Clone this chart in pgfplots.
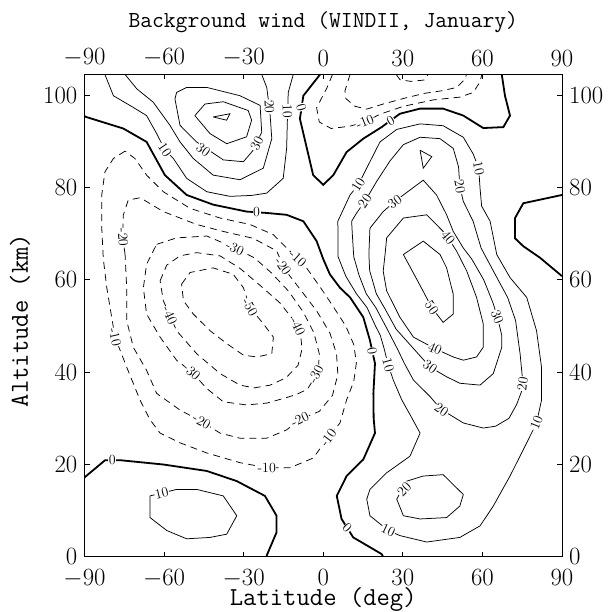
\documentclass[border=0pt]{standalone}
\usepackage{pgfplots}
\pgfplotsset{compat=1.18}

\begin{document}
\begin{tikzpicture}[
  lab/.style={font=\fontsize{14}{14}\selectfont, fill=white, inner sep=0.5bp},
]
\pgfplotsset{
  windframe/.style={
    scale only axis, width=477.5bp, height=482.3bp,
    xmin=-90, xmax=90, ymin=0, ymax=104.5,
    xtick={-90,-60,-30,0,30,60,90}, ytick={0,20,40,60,80,100},
    tick align=inside, major tick length=5bp,
    axis line style={line width=0.8bp},
    every tick/.style={black, line width=0.8bp},
    tick label style={font=\fontsize{25}{25}\selectfont},
  },
  pos/.style={black, line width=0.75bp},
  neg/.style={black, line width=0.75bp, dash pattern=on 7bp off 5bp},
  zer/.style={black, line width=1.8bp},
}

% bottom / left tick labels, titles and all contours
\begin{axis}[windframe,
  xticklabel style={anchor=north, inner sep=0pt, yshift=-13bp},
  yticklabel style={anchor=east, inner sep=0pt, xshift=-7bp},
  title={Background wind (WINDII, January)},
  title style={font=\ttfamily\fontsize{23}{23}\selectfont, at={(axis description cs:0.5,1.086)}, anchor=base},
  xlabel={Latitude (deg)},
  xlabel style={font=\ttfamily\fontsize{26}{26}\selectfont, at={(axis description cs:0.5,-0.1016)}, anchor=base},
  ylabel={Altitude (km)},
  ylabel style={font=\ttfamily\fontsize{26}{26}\selectfont, at={(axis description cs:-0.1351,0.49)}, anchor=center},
]

% ---- zero lines (thick)
\addplot[zer] coordinates {(-90,95.5) (-89.4,95.3) (-75.4,92.8) (-66.6,89.9) (-59.7,82.7) (-51.5,78.4) (-41.5,76.3) (-28.9,74.8) (-21.3,74.5) (-13.8,74.1) (-7.5,72.7) (-2.5,68.4) (0,64.5) (2.5,61.2) (6.3,58.3) (10.1,56.2) (15.1,51.9) (17.6,46.9) (19.5,41.9) (18.9,35.4) (19,30) (19.5,26.8) (15.1,21.1) (8.8,17.5) (5.1,13.2) (6.9,8.2) (11.3,4.2) (22,0.6) (22.6,0)};
\addplot[zer] coordinates {(-1.2,104.5) (-7.5,99.9) (-8.8,94.9) (-3.8,82.7) (0,80.6) (3.8,82.7) (8.8,87.7) (15.1,90.6) (22,93.1) (28.9,96) (36.5,97.1) (45.2,97.1) (52.8,95.6) (60.3,92.9) (67.9,93.1) (70.4,95.6) (68.5,99.9) (67.3,104.5)};
\addplot[zer] coordinates {(90,78.4) (75.4,76.6) (72.3,73.4) (72.3,69) (75.4,67.3) (81.7,64.8) (89.2,61.2) (90,60.8)};
\addplot[zer] coordinates {(-90,17.2) (-82.3,20.9) (-76,20.9) (-60.3,20) (-43.9,18.6) (-32.6,16.4) (-22,13.2) (-17.6,8.9) (-17.6,5.3) (-21.3,0.3) (-21.4,0)};

% ---- southern mesospheric westerlies
\addplot[pos] coordinates {(-82.3,104.5) (-79.1,99.9) (-72,97.5) (-66.6,95.6) (-62.8,91.7) (-59.7,88.2) (-56.5,86.3) (-51.5,82) (-43.9,79.1) (-35.2,78.1) (-27,78.3) (-21.3,78.8) (-15.1,82) (-13.8,88.5) (-13.5,95) (-13.2,100.6) (-11.3,104.5)};
\addplot[pos] coordinates {(-74.7,104.5) (-70.3,101.4) (-64.1,98.5) (-57.8,93.5) (-54,89.9) (-49,86.3) (-41.5,82.7) (-31.4,81.7) (-22.6,84.2) (-19.4,90.6) (-20.1,96.3) (-21.3,101.7) (-23.2,104.5)};
\addplot[pos] coordinates {(-55.3,100.6) (-51.5,101.7) (-43.9,101.7) (-31.4,99.9) (-23.8,97.8) (-23.2,92) (-26.4,88.1) (-30.1,85.6) (-37.7,86) (-47.8,89.9) (-54,93.5) (-55.9,99.2) (-55.3,100.6)};
\addplot[pos] coordinates {(-48.4,95.6) (-44.6,98.1) (-37.7,98.6) (-28.3,96.7) (-27,94.6) (-28.9,91) (-36.4,89.5) (-42.7,91.7) (-48.4,95.6)};
\addplot[pos] coordinates {(-41.5,95.3) (-35.2,96) (-36.4,94.6) (-41.5,95.3)};

% ---- southern stratospheric easterlies
\addplot[neg] coordinates {(-74.7,87.9) (-79.1,86.3) (-82.3,83.4) (-83.5,78.4) (-83.5,71.2) (-82.9,64.5) (-81.6,58.3) (-78.5,47.6) (-74.1,41.1) (-69.1,34) (-65.3,29.7) (-61.5,26.8) (-54,24.7) (-43.9,22.5) (-31.4,20.4) (-21.3,19.3) (-12.5,19.3) (-3.8,21.4) (1.3,25.4) (6.3,29) (8.8,34) (11.5,38) (12.5,42) (11.5,46) (8.5,50) (4,54) (-1,58.3) (-6.3,62.6) (-10,64.8) (-13.8,66.9) (-18.8,69.8) (-27.6,72) (-38.9,73.4) (-50.2,75.5) (-60.3,79.1) (-66.6,82.7) (-71,86.3) (-74.7,87.9)};
\addplot[neg] coordinates {(-74.7,65.5) (-75.6,69.2) (-75.4,74) (-73.5,77.3) (-69,77.8) (-60.3,74.8) (-47.7,72) (-37.7,70.5) (-26.4,69) (-17.6,66.3) (-14.4,62.2) (-8.5,57.8) (-2.5,53.3) (2.5,48.5) (5,44) (5.5,39.5) (3.5,35) (-1.5,31.5) (-8.8,29.8) (-13.8,27.5) (-21.3,25.7) (-31.4,25.7) (-38.9,26.8) (-45.8,29.3) (-54,31.8) (-62.8,35.4) (-66.6,40.4) (-71.6,45.4) (-74.1,51.2) (-74.1,58.3) (-74.7,65.5)};
\addplot[neg] coordinates {(-62.8,67.7) (-55.3,69.1) (-43.9,69.5) (-37.7,68) (-33.3,66.9) (-26,64.8) (-19.5,61.5) (-13,57.5) (-7.5,53) (-3.5,48.5) (-1.5,44) (-1.8,41) (-3.8,38.3) (-6,36.3) (-10,35.2) (-13.8,34.5) (-21.3,33.3) (-28.9,32.9) (-37.7,33.6) (-44,36.5) (-49.6,40.1) (-55.3,42.6) (-61.5,47.6) (-66.6,52.6) (-67.8,58.3) (-66.6,63.4) (-62.8,67.7)};
\addplot[neg] coordinates {(-61.5,59.8) (-59,63.2) (-54,65.2) (-47.7,65.9) (-38.9,65.2) (-31.4,62.5) (-23.8,58.8) (-16.3,55) (-11.5,51.5) (-8.6,48.5) (-8,45) (-9.5,41.5) (-14,38.8) (-20,37.2) (-26,36.6) (-31.4,37.2) (-38.9,39.7) (-47.7,44) (-55.3,49) (-57.8,52.3) (-60.3,55.5) (-61.5,59.8)};
\addplot[neg] coordinates {(-53.4,59.1) (-50.2,61.6) (-41.5,62.6) (-33.9,61.2) (-30.1,58.3) (-27.6,54) (-22.6,50.5) (-18.8,47.6) (-19.4,44) (-25.1,43.3) (-30.1,43.7) (-36.4,46.2) (-42.7,49) (-49,52.6) (-52.7,55.5) (-53.4,59.1)};

% ---- northern mesopause easterlies
\addplot[neg] coordinates {(3.5,104.5) (1.3,101.5) (-2.5,97.3) (-1.5,94.2) (3,92.8) (10,93.3) (15.7,94.2) (21.4,95.9) (30.2,97.6) (41.5,99) (51.5,99.6) (56.5,100.6) (59,102.8) (59.8,104.5)};
\addplot[neg] coordinates {(10.1,104.5) (8.2,101) (8.5,99.3) (12,97.6) (16.4,97) (22.6,98.1) (30.2,99.3) (38,100.4) (45,101) (50.3,101.7) (53.4,103.5) (54,104.5)};
\addplot[neg] coordinates {(27.5,104.5) (28.9,103.4) (33,103) (38,103.3) (39.5,104.5)};

% ---- northern winter westerlies
\addplot[pos] coordinates {(10.1,78.4) (13.2,80.6) (17.6,85.6) (21.4,89.9) (27.7,92.6) (36.5,93.8) (45.2,93.4) (52.8,90.9) (56.5,87.3) (58.6,84.2) (59.1,79.9) (59.7,76) (62.9,72.7) (65.4,65.5) (70.4,60.5) (76.7,56.2) (80.4,49) (82.3,41) (82.3,34) (80.4,29) (75.4,23.2) (70.4,17.5) (64.1,11) (59.1,6.7) (51.5,4.2) (39,3.2) (28.9,4.6) (24.5,5.7) (17.6,8.9) (16.4,12.5) (17.6,14.6) (23.9,18.2) (32.7,21.8) (36.5,26.8) (33,30.5) (29.6,34) (26.4,38.3) (24.5,41.5) (23,45) (21.5,48) (19.7,50) (16.5,54) (12.5,57) (8.5,60.8) (5.6,65) (5.5,72.7) (10.1,78.4)};
\addplot[pos] coordinates {(10.7,72.7) (12.6,74.5) (15.7,77) (20.1,81.3) (25.2,85.8) (30.2,89.3) (36.5,90.9) (44,90.6) (49,88.5) (51,84.5) (51.5,80.2) (52.8,77) (56.5,72.7) (59.5,66.9) (64.8,61.2) (69.5,56.2) (72.5,51.2) (74.2,44) (75.4,36.8) (72.9,33) (70,30) (65,28.3) (60.3,27.9) (52.8,29) (47.7,30.8) (44.6,31.8) (40.3,34.7) (34,38.3) (30.5,42) (28,45) (23.5,50) (19.8,54) (16.2,57) (13.5,61) (11.5,65) (11,69.5) (10.7,72.7)};
\addplot[pos] coordinates {(17.6,71.2) (22.6,74.8) (27,77) (30.2,78.4) (37.7,81.6) (42.7,78.4) (46.5,74.1) (49,70.5) (52.8,66.9) (56,64.5) (60.5,60) (64,55) (65.6,52) (67.3,48) (67.3,45.4) (64.1,39.7) (59.1,37.2) (51.5,37.6) (46.5,39) (40.3,41.1) (35,44.5) (27.5,49.3) (23.5,53.5) (20,57) (17.5,62) (17.2,65.5) (17.6,71.2)};
\addplot[pos] coordinates {(23.9,69.1) (30.2,73.4) (39,74.1) (45.2,70.5) (47.1,69.1) (50.3,66.2) (54.1,61.9) (57.8,56.2) (60.3,50.5) (60.3,45.4) (57.8,43.3) (52.8,42.6) (49,43.3) (42.1,45.1) (34,47.6) (28.9,51.9) (23.9,57.6) (22.6,61.9) (23.3,65.5) (23.9,69.1)};
\addplot[pos] coordinates {(30.2,65.5) (37.7,68.4) (44,65.5) (46.5,62.6) (49,56.9) (49,52.6) (45.2,50.8) (40.9,54) (36.5,58.8) (30.2,65.5)};
\addplot[pos] coordinates {(36.5,88.1) (40.9,86.7) (37.7,84.2) (36.5,88.1)};
\addplot[pos] coordinates {(27.7,12.5) (31.5,16.4) (37.7,17.5) (45.2,17.8) (52.8,13.5) (51.5,11) (46.5,8.5) (36.5,8.2) (30.2,8.9) (27.7,12.5)};

% ---- southern low-level westerlies
\addplot[pos] coordinates {(-65.3,13.2) (-60.9,13.8) (-55.3,14.6) (-47.7,14.6) (-37.7,13.2) (-32.6,8.9) (-36.4,4.9) (-42.7,4.2) (-51.5,3.9) (-59,5.7) (-65.3,8.5) (-65.3,13.2)};

% ---- contour labels
\node[lab, rotate=-56] at (-59.7,88.2) {10};
\node[lab, rotate=-88] at (-13.5,96.5) {10};
\node[lab, rotate=-88] at (-20.3,97.5) {20};
\node[lab, rotate=-36] at (-45.2,88.2) {30};
\node[lab, rotate=63] at (-25,89.5) {30};

\node[lab, rotate=-75] at (-8.3,97.4) {0};
\node[lab] at (-25.1,74.65) {0};
\node[lab, rotate=30] at (25.4,94.5) {0};
\node[lab, rotate=-80] at (18.4,44.5) {0};
\node[lab, rotate=-45] at (9,6.2) {0};
\node[lab] at (-79.5,20.9) {0};

\node[lab, rotate=-77] at (-78.5,47.6) {-10};
\node[lab, rotate=-42] at (-9.6,64.6) {-10};
\node[lab] at (-21.3,19.3) {-10};
\node[lab, rotate=53] at (1.9,25.8) {-10};
\node[lab, rotate=-87] at (-75.5,69.2) {-20};
\node[lab, rotate=-55] at (-15.2,62.9) {-20};
\node[lab, rotate=-30] at (-45.8,29.3) {-20};
\node[lab, rotate=25] at (-8.8,29.8) {-20};
\node[lab, rotate=-25] at (-33.3,66.9) {-30};
\node[lab, rotate=-42] at (-49.6,40.1) {-30};
\node[lab, rotate=62] at (-2.8,39.6) {-30};
\node[lab, rotate=-66] at (-57.8,52.3) {-40};
\node[lab, rotate=-65] at (-9.6,49.9) {-40};
\node[lab, rotate=-61] at (-27.6,54) {-50};
\node[lab, rotate=22] at (15.7,94.2) {-10};
\node[lab, rotate=13] at (-60.9,13.8) {10};

\node[lab, rotate=58] at (13.2,80.6) {10};
\node[lab, rotate=-78] at (58.6,84.2) {10};
\node[lab, rotate=-74] at (24.5,41.5) {10};
\node[lab, rotate=68] at (80.4,29) {10};
\node[lab, rotate=-25] at (24.5,5.7) {10};
\node[lab, rotate=55] at (15.7,77) {20};
\node[lab, rotate=-80] at (51.5,80.2) {20};
\node[lab, rotate=-35] at (44.6,31.8) {20};
\node[lab, rotate=82] at (75.2,37.5) {20};
\node[lab, rotate=45] at (30.5,14.6) {20};
\node[lab, rotate=35] at (27,77) {30};
\node[lab, rotate=-68] at (65.6,52) {30};
\node[lab, rotate=-35] at (40.3,41.1) {30};
\node[lab, rotate=-50] at (47.1,69.1) {40};
\node[lab, rotate=-24] at (42.1,45.1) {40};
\node[lab, rotate=-55] at (40.9,54) {50};
\end{axis}

% top / right tick labels
\begin{axis}[windframe,
  xticklabel pos=upper, yticklabel pos=right,
  xticklabel style={anchor=south, inner sep=0pt, yshift=8bp},
  yticklabel style={anchor=west, inner sep=0pt, xshift=7bp},
]
\end{axis}

\pgfresetboundingbox
\path[use as bounding box] ([shift={(-84.5bp,-55bp)}]current axis.south west) rectangle ([shift={(54bp,74.5bp)}]current axis.north east);
\end{tikzpicture}
\end{document}
